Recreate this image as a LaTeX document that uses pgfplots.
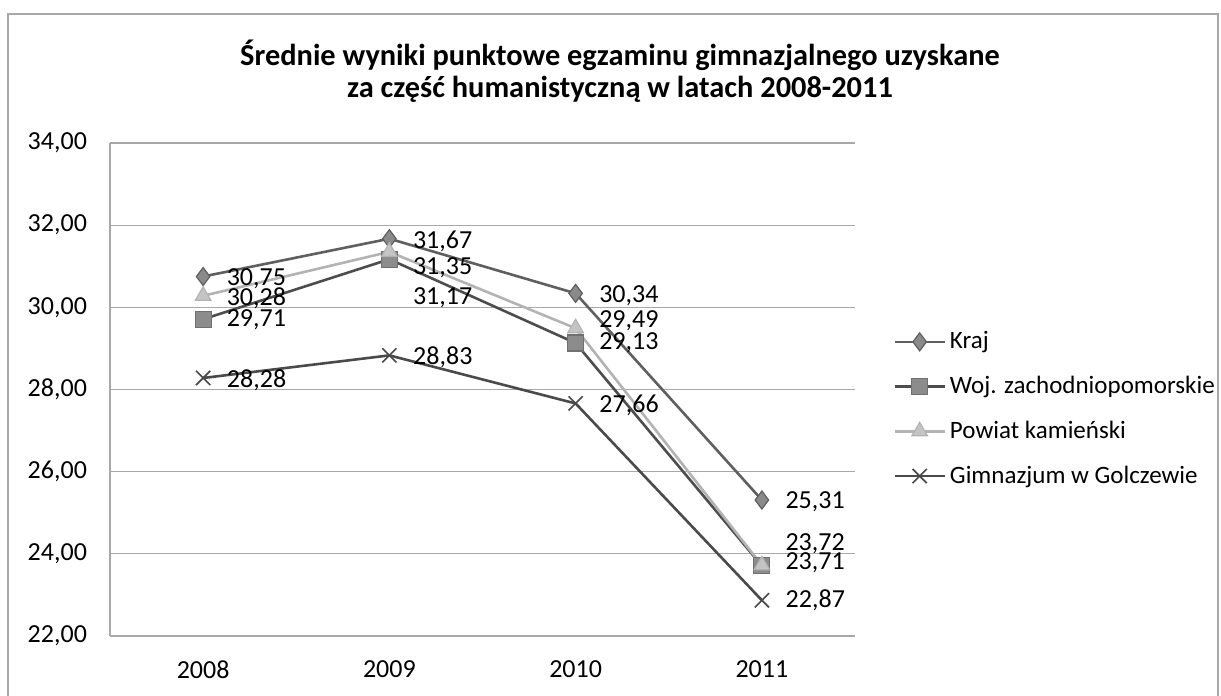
\documentclass[border=0pt]{standalone}
\usepackage{pgfplots}
\pgfplotsset{compat=1.18}
\usepackage{fontspec}
\setmainfont{Carlito}
\definecolor{krajc}{HTML}{5F5F5F}
\definecolor{krajf}{HTML}{8A8A8A}
\definecolor{wojc}{HTML}{4D4D4D}
\definecolor{wojf}{HTML}{8C8C8C}
\definecolor{powc}{HTML}{B3B3B3}
\definecolor{powf}{HTML}{C4C4C4}
\definecolor{gimc}{HTML}{4A4A4A}
\definecolor{gridc}{HTML}{A8A8A8}

\pgfplotstableread{
x y dy
0 30.75 -1
1 31.67 -1.5
2 30.34 -1
3 25.31 -1
}\kraj
\pgfplotstableread{
x y dy
0 29.71 0
1 31.17 -19
2 29.13 0
3 23.71 1.5
}\woj
\pgfplotstableread{
x y dy
0 30.28 -1
1 31.35 -8
2 29.49 4
3 23.72 11
}\powiat
\pgfplotstableread{
x y dy
0 28.28 -1
1 28.83 -1
2 27.66 -0.75
3 22.87 0
}\gimn

\begin{document}
\begin{tikzpicture}
\path[use as bounding box] (0,0) rectangle (610.5pt,348pt);
\draw[gridc, line width=0.6pt] (4pt,0) -- (4pt,341pt) -- (609pt,341pt) -- (609pt,0);
\node[font=\bfseries\fontsize{15.2}{16}\selectfont, align=center] at (310pt,312.5pt)
  {Średnie wyniki punktowe egzaminu gimnazjalnego uzyskane\\za część humanistyczną w latach 2008-2011};
\begin{axis}[
  at={(55pt,30pt)}, anchor=south west,
  scale only axis, width=372.5pt, height=246.5pt,
  xmin=-0.5, xmax=3.5, ymin=22, ymax=34,
  ytick={22,24,...,34},
  xtick={0,1,2,3}, xticklabels={2008,2009,2010,2011},
  axis x line*=bottom, axis y line*=left,
  axis line style={-, gridc, line width=0.6pt},
  major tick length=0pt,
  ymajorgrids, grid style={gridc, line width=0.6pt},
  /pgf/number format/assume math mode=true,
  ticklabel style={font=\fontsize{13}{15}\selectfont},
  yticklabel style={xshift=-8pt, /pgf/number format/.cd, fixed, fixed zerofill, precision=2, use comma},
  xticklabel style={yshift=-9pt},
  clip=false,
  point meta=y,
  nodes near coords={\pgfmathprintnumber[fixed,fixed zerofill,precision=2,use comma]{\pgfplotspointmeta}},
  visualization depends on={\thisrow{dy} \as \dy},
  nodes near coords style={anchor=west, xshift=8.2pt, yshift=\dy pt, text=black, font=\fontsize{13}{15}\selectfont},
  legend style={at={(1.051,0.626)}, anchor=north west, draw=none, fill=none,
    font=\fontsize{12.5}{14}\selectfont, row sep=8.2pt, inner sep=0pt},
  legend cell align=left,
  legend image code/.code={\draw[mark repeat=2,mark phase=2,#1] plot coordinates {(0pt,0pt) (12.5pt,0pt) (25pt,0pt)};},
]
\addplot[color=krajc, line width=1.3pt, mark=diamond*, mark size=4.5pt,
  mark options={fill=krajf, draw=krajc, line width=0.6pt, solid}] table[x=x,y=y] {\kraj};
\addlegendentry{Kraj}
\addplot[color=wojc, line width=1.3pt, mark=square*, mark size=4pt,
  mark options={fill=wojf, draw=wojf!80!black, line width=0.6pt, solid}] table[x=x,y=y] {\woj};
\addlegendentry{Woj. zachodniopomorskie}
\addplot[color=powc, line width=1.3pt, mark=triangle*, mark size=4.5pt,
  mark options={fill=powf, draw=powc, line width=0.6pt, solid}] table[x=x,y=y] {\powiat};
\addlegendentry{Powiat kamieński}
\addplot[color=gimc, line width=1.3pt, mark=x, mark size=5pt,
  mark options={line width=0.8pt, solid}] table[x=x,y=y] {\gimn};
\addlegendentry{Gimnazjum w Golczewie}
\end{axis}
\end{tikzpicture}
\end{document}
